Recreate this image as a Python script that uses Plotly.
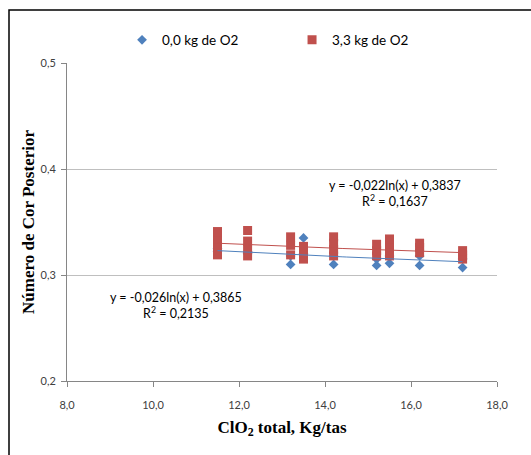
import numpy as np
import plotly.graph_objects as go

# ---- data ----
blue_x = [11.5, 11.5, 12.2, 12.2, 13.2, 13.2, 13.5, 13.5, 14.2, 14.2,
          15.2, 15.2, 15.5, 15.5, 16.2, 16.2, 17.2, 17.2]
blue_y = [0.325, 0.322, 0.322, 0.320, 0.310, 0.318, 0.335, 0.320, 0.310, 0.318,
          0.309, 0.315, 0.311, 0.318, 0.309, 0.318, 0.307, 0.315]

red_x = [11.5, 11.5, 11.5, 11.5,
         12.2, 12.2, 12.2, 12.2,
         13.2, 13.2, 13.2,
         13.5, 13.5, 13.5,
         14.2, 14.2, 14.2, 14.2,
         15.2, 15.2, 15.2,
         15.5, 15.5, 15.5, 15.5,
         16.2, 16.2, 16.2,
         17.2, 17.2, 17.2]
red_y = [0.319, 0.326, 0.334, 0.341,
         0.318, 0.325, 0.332, 0.342,
         0.319, 0.328, 0.336,
         0.315, 0.321, 0.327,
         0.318, 0.324, 0.330, 0.336,
         0.318, 0.323, 0.329,
         0.318, 0.324, 0.329, 0.334,
         0.321, 0.326, 0.330,
         0.315, 0.319, 0.323]

# logarithmic trendline coefficients as printed on the chart (a, b, R2)
blue_trend = (-0.026, 0.3865, 0.2135)
red_trend = (-0.022, 0.3837, 0.1637)

series_names = ["0,0 kg de O2", "3,3 kg de O2"]
x_ticks = [8, 10, 12, 14, 16, 18]
y_ticks = [0.2, 0.3, 0.4, 0.5]

BLUE = "#4F81BD"
RED = "#C0504D"
FONT = "Lato"
SERIF = "Liberation Serif"

fig = go.Figure()
fig.add_trace(go.Scatter(x=blue_x, y=blue_y, mode="markers", name=series_names[0],
                         marker=dict(symbol="diamond", size=7.5, color=BLUE)))
fig.add_trace(go.Scatter(x=red_x, y=red_y, mode="markers", name=series_names[1],
                         marker=dict(symbol="square", size=9, color=RED)))

tx = np.linspace(min(blue_x), max(blue_x), 60)
fig.add_trace(go.Scatter(x=tx, y=blue_trend[0] * np.log(tx) + blue_trend[1], mode="lines",
                         line=dict(color=BLUE, width=1), showlegend=False, hoverinfo="skip"))
tx2 = np.linspace(min(red_x), max(red_x), 60)
fig.add_trace(go.Scatter(x=tx2, y=red_trend[0] * np.log(tx2) + red_trend[1], mode="lines",
                         line=dict(color=RED, width=1), showlegend=False, hoverinfo="skip"))


def fmt(v, d):
    return f"{v:.{d}f}".replace(".", ",")


eq_font = dict(family=FONT, size=12.5, color="#000000")

fig.update_layout(
    width=531, height=455,
    margin=dict(l=67, r=34, t=63, b=74, autoexpand=False),
    paper_bgcolor="white", plot_bgcolor="white",
    separators=", ",
    showlegend=True,
    legend=dict(orientation="h", x=0.128, y=(381 - 40) / 318, xanchor="left", yanchor="middle",
                font=dict(family=FONT, size=13.5, color="#000000"),
                entrywidth=125, entrywidthmode="pixels", itemwidth=30,
                bgcolor="rgba(0,0,0,0)"),
    xaxis=dict(range=[8, 18], tickvals=x_ticks, tickformat=".1f",
               showgrid=False, showline=True, linecolor="#868686", linewidth=1,
               ticks="outside", ticklen=5, tickcolor="#868686", ticklabelstandoff=9,
               tickfont=dict(family=FONT, size=11, color="#404040"),
               title=dict(text="<b>ClO<sub>2</sub> total, Kg/tas</b>",
                          font=dict(family=SERIF, size=17, color="#000000"),
                          standoff=10),
               zeroline=False),
    yaxis=dict(range=[0.2, 0.5], tickvals=y_ticks, tickformat=".1f",
               showgrid=True, gridcolor="#BFBFBF", gridwidth=1,
               showline=True, linecolor="#868686", linewidth=1,
               ticks="outside", ticklen=5, tickcolor="#868686", ticklabelstandoff=3,
               tickfont=dict(family=FONT, size=11, color="#404040"),
               title=dict(text="<b>Número de Cor Posterior</b>",
                          font=dict(family=SERIF, size=17, color="#000000"),
                          standoff=1),
               zeroline=False),
)

# trendline labels
fig.add_annotation(xref="paper", yref="paper", x=(395 - 67) / 430, y=(381 - 193) / 318,
                   xanchor="center", yanchor="middle", showarrow=False, align="center",
                   text=f"y = {fmt(red_trend[0], 3)}ln(x) + {fmt(red_trend[1], 4)}<br>R<sup>2</sup> = {fmt(red_trend[2], 4)}",
                   font=eq_font)
fig.add_annotation(xref="paper", yref="paper", x=(176 - 67) / 430, y=(381 - 305) / 318,
                   xanchor="center", yanchor="middle", showarrow=False, align="center",
                   text=f"y = {fmt(blue_trend[0], 3)}ln(x) + {fmt(blue_trend[1], 4)}<br>R<sup>2</sup> = {fmt(blue_trend[2], 4)}",
                   font=eq_font)

# outer chart frame
fig.add_shape(type="rect", xref="paper", yref="paper",
              x0=(9 - 67) / 430, x1=1.3, y0=-0.3, y1=(381 - 10) / 318,
              line=dict(color="#000000", width=1.5), fillcolor="rgba(0,0,0,0)", layer="above")

fig.write_html("out.html")
